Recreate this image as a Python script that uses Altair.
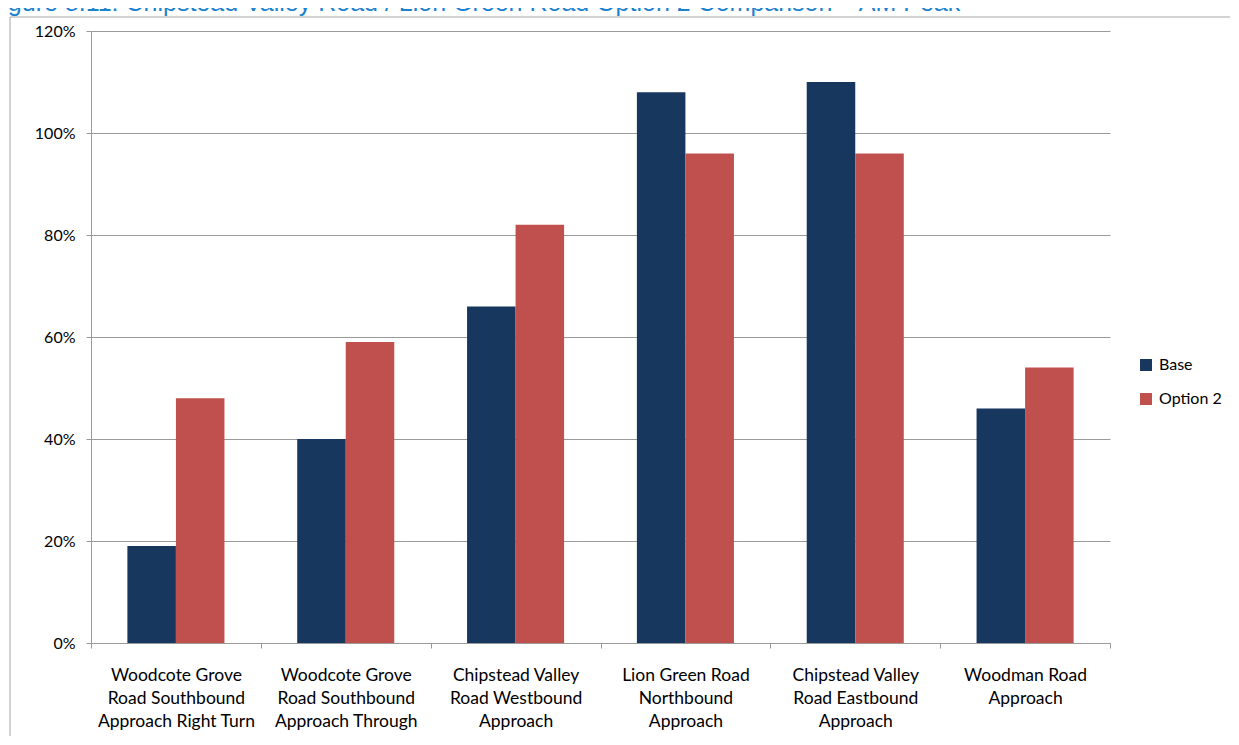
import altair as alt
import pandas as pd

categories = [
    "Woodcote Grove|Road Southbound|Approach Right Turn",
    "Woodcote Grove|Road Southbound|Approach Through",
    "Chipstead Valley|Road Westbound|Approach",
    "Lion Green Road|Northbound|Approach",
    "Chipstead Valley|Road Eastbound|Approach",
    "Woodman Road|Approach",
]
series = ["Base", "Option 2"]
base_values = [19, 40, 66, 108, 110, 46]
option2_values = [48, 59, 82, 96, 96, 54]
colors = ["#17375E", "#C0504D"]
y_ticks = [0, 20, 40, 60, 80, 100, 120]
title_text = "Figure 8.11: Chipstead Valley Road / Lion Green Road Option 2 Comparison \u2013 AM Peak"

rows = []
for c, b, o in zip(categories, base_values, option2_values):
    rows.append({"category": c, "series": "Base", "value": b})
    rows.append({"category": c, "series": "Option 2", "value": o})
df = pd.DataFrame(rows)

GRID = "#9A9A9A"
FONT = "Lato"

bars = alt.Chart(df).mark_bar().encode(
    x=alt.X(
        "category:N",
        sort=categories,
        scale=alt.Scale(paddingInner=0, paddingOuter=0),
        axis=alt.Axis(
            title=None,
            labelAngle=0,
            tickBand="extent",
            labelExpr="split(datum.label, '|')",
            labelFont=FONT,
            labelFontSize=17.5,
            labelColor="#000000",
            labelLineHeight=23,
            labelPadding=18,
            tickSize=5,
            tickColor=GRID,
            domainColor=GRID,
            grid=False,
        ),
    ),
    xOffset=alt.XOffset(
        "series:N", sort=series, scale=alt.Scale(paddingOuter=0.75, paddingInner=0)
    ),
    y=alt.Y(
        "value:Q",
        scale=alt.Scale(domain=[0, 120], nice=False),
        axis=alt.Axis(
            title=None,
            values=y_ticks,
            labelExpr="datum.value + '%'",
            labelFont=FONT,
            labelFontSize=16,
            labelColor="#000000",
            labelPadding=11,
            tickSize=5,
            tickColor=GRID,
            domainColor=GRID,
            gridColor=GRID,
            grid=True,
        ),
    ),
    color=alt.Color(
        "series:N",
        sort=series,
        scale=alt.Scale(domain=series, range=colors),
        legend=alt.Legend(
            title=None,
            orient="none",
            legendX=1047,
            legendY=326,
            symbolType="square",
            symbolSize=144,
            symbolStrokeWidth=0,
            labelFont=FONT,
            labelFontSize=16,
            labelColor="#000000",
            labelOffset=5,
            rowPadding=18,
            padding=0,
        ),
    ),
)

one = pd.DataFrame({"a": [0]})
frame = alt.Chart(one).mark_rect(filled=False, stroke="#A6A6A6", strokeWidth=1).encode(
    x=alt.value(-81), x2=alt.value(1145), y=alt.value(-14), y2=alt.value(720)
)
title = alt.Chart(one).mark_text(
    text=title_text,
    align="left",
    baseline="alphabetic",
    font="Liberation Sans",
    fontSize=25,
    color="#1C82CE",
).encode(x=alt.value(-104), y=alt.value(-20))

chart = alt.layer(frame, title, bars).properties(
    width=1019,
    height=612,
    padding={"left": 83, "top": 23, "right": 120, "bottom": 93},
    autosize=alt.AutoSizeParams(type="none"),
).configure_view(stroke=None)

chart.save("out.html", embed_options={"renderer": "svg", "actions": False})
